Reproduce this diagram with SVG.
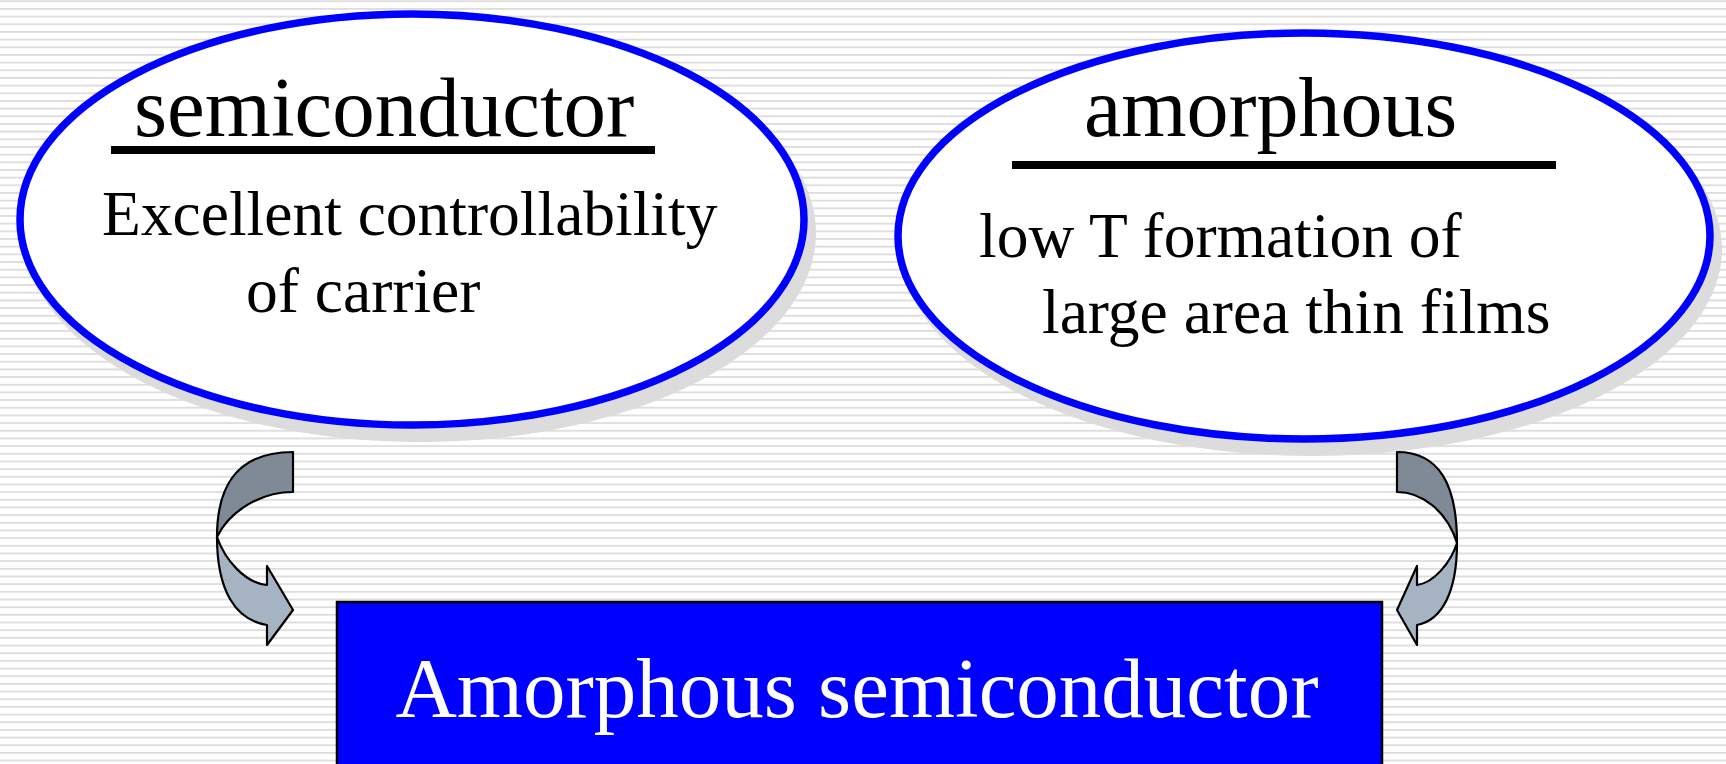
<svg xmlns="http://www.w3.org/2000/svg" width="1726" height="764" viewBox="0 0 1726 764">
  <defs>
    <pattern id="stripes" patternUnits="userSpaceOnUse" x="0" y="0.3" width="1726" height="7.67">
      <rect x="0" y="0" width="1726" height="1.8" fill="#dcdcdc"/>
    </pattern>
    <style>
      .bubble { fill: #ffffff; stroke: #0000ff; stroke-width: 7.5; }
      .shadow { fill: #dcdcdc; }
      .title { font-family: "Liberation Serif", "Times New Roman", serif; font-size: 85px; fill: #000000; }
      .body { font-family: "Liberation Serif", "Times New Roman", serif; font-size: 63.5px; fill: #000000; }
      .rule { fill: #000000; }
      .box { fill: #0000ff; stroke: #000000; stroke-width: 2.5; }
      .boxlabel { font-family: "Liberation Serif", "Times New Roman", serif; font-size: 85px; fill: #ffffff; }
      .band-back { fill: #7f8a96; stroke: #000000; stroke-width: 2.2; stroke-linejoin: round; }
      .band-front { fill: #a5b3c3; stroke: #000000; stroke-width: 2.2; stroke-linejoin: round; }
    </style>
  </defs>

  <!-- striped backdrop -->
  <rect x="0" y="0" width="1726" height="764" fill="#ffffff"/>
  <rect x="0" y="0" width="1726" height="764" fill="url(#stripes)"/>

  <!-- left bubble -->
  <g id="node-semiconductor">
    <ellipse class="shadow" cx="420" cy="233" rx="396" ry="209"/>
    <ellipse class="bubble" cx="412" cy="219.5" rx="392" ry="205.5"/>
    <text class="title" x="134" y="136">semiconductor</text>
    <rect class="rule" x="111" y="146" width="544" height="8"/>
    <text class="body" x="102" y="235">Excellent controllability</text>
    <text class="body" x="246" y="312">of carrier</text>
  </g>

  <!-- right bubble -->
  <g id="node-amorphous">
    <ellipse class="shadow" cx="1312" cy="249" rx="410" ry="207"/>
    <ellipse class="bubble" cx="1304" cy="236" rx="406" ry="203"/>
    <text class="title" x="1084" y="136" style="font-size:84px">amorphous</text>
    <rect class="rule" x="1012" y="161" width="544" height="8"/>
    <text class="body" x="979" y="257">low T formation of</text>
    <text class="body" x="1042" y="333">large area thin films</text>
  </g>

  <!-- result box -->
  <g id="node-result">
    <rect class="box" x="337" y="602" width="1045" height="180"/>
    <text class="boxlabel" x="857" y="717" text-anchor="middle">Amorphous semiconductor</text>
  </g>

  <!-- curved arrows leading into the result box -->
  <g id="connectors">
    <g id="arrow-left">
      <path class="band-back" d="M293,452 C240,452 217,482 217,537 C230,510 262,492 293,492 Z"/>
      <path class="band-front" d="M217,537 C217,590 235,620 267,625 L267,645 L293,610 L267,566 L267,585 C245,583 225,560 217,537 Z"/>
    </g>
    <g id="arrow-right">
      <path class="band-back" d="M1397,452 C1439,452 1457,484 1457,543 C1447,511 1422,492 1397,492 Z"/>
      <path class="band-front" d="M1457,543 C1457,590 1443,620 1417,625 L1417,645 L1397,610 L1417,566 L1417,585 C1434,583 1451,562 1457,543 Z"/>
    </g>
  </g>
</svg>
